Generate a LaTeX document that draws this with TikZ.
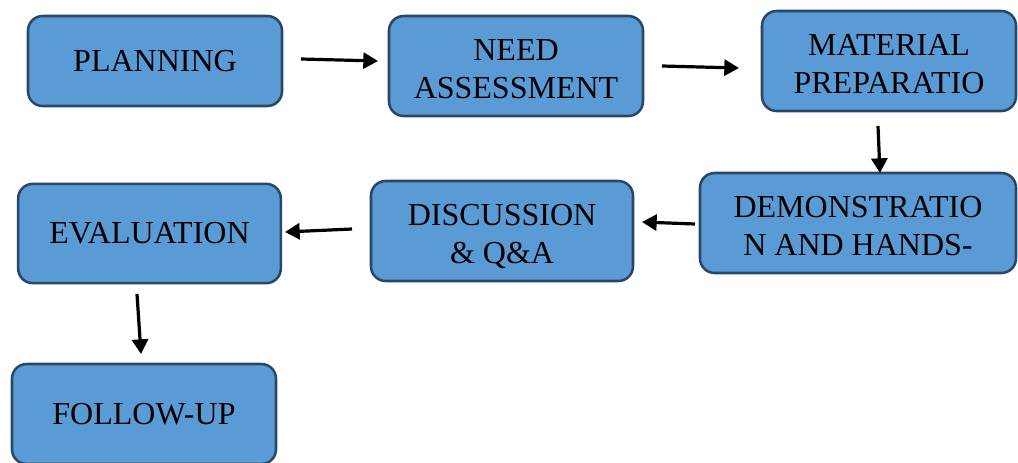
\documentclass[tikz,border=0pt]{standalone}
\usepackage{fontspec}
\setmainfont{Liberation Serif}
\usetikzlibrary{arrows.meta}
\definecolor{boxfill}{HTML}{5B9BD5}
\definecolor{boxline}{HTML}{284868}
\newcommand\twolines[2]{\raisebox{-11pt}[0pt][0pt]{\begin{tabular}{@{}c@{}}#1\\[1pt]#2\end{tabular}}}
\tikzset{
  stepbox/.style={draw=boxline, fill=boxfill, line width=1.9pt, rounded corners=11pt,
    rectangle, inner sep=0pt, align=center, font=\fontsize{24}{27.5}\selectfont, text=black},
  flow/.style={line width=2.4pt, -{Triangle[length=11pt,width=12pt]}}
}
\begin{document}
\begin{tikzpicture}[x=0.75pt,y=-0.75pt]
\useasboundingbox (0,0) rectangle (1018,462);
\node[stepbox, minimum width=190.5pt, minimum height=67.5pt] (plan) at (155,61) {PLANNING};
\node[stepbox, minimum width=190.5pt, minimum height=75pt] (need) at (516,66) {\twolines{NEED}{ASSESSMENT}};
\node[stepbox, minimum width=190.5pt, minimum height=75pt] (mat) at (889,61) {\twolines{MATERIAL}{PREPARATIO}};
\node[stepbox, minimum width=237pt, minimum height=75pt] (demo) at (858,223) {\twolines{DEMONSTRATIO}{N AND HANDS-}};
\node[stepbox, minimum width=196.5pt, minimum height=75pt] (disc) at (502,231) {\twolines{DISCUSSION}{\& Q\&A}};
\node[stepbox, minimum width=197pt, minimum height=74.5pt] (eval) at (149.5,233.5) {EVALUATION};
\node[stepbox, minimum width=198pt, minimum height=75pt] (foll) at (144,414) {FOLLOW-UP};
\coordinate (a1s) at (301,59); \coordinate (a1e) at (378,61);
\coordinate (a2s) at (662,66); \coordinate (a2e) at (739,68);
\coordinate (a3s) at (878,126); \coordinate (a3e) at (880,173);
\coordinate (a4s) at (695,224); \coordinate (a4e) at (642,222);
\coordinate (a5s) at (352,229); \coordinate (a5e) at (285,232);
\coordinate (a6s) at (137,294); \coordinate (a6e) at (141,354);
\draw[flow] (a1s) -- (a1e);
\draw[flow] (a2s) -- (a2e);
\draw[flow] (a3s) -- (a3e);
\draw[flow] (a4s) -- (a4e);
\draw[flow] (a5s) -- (a5e);
\draw[flow] (a6s) -- (a6e);
\end{tikzpicture}
\end{document}
